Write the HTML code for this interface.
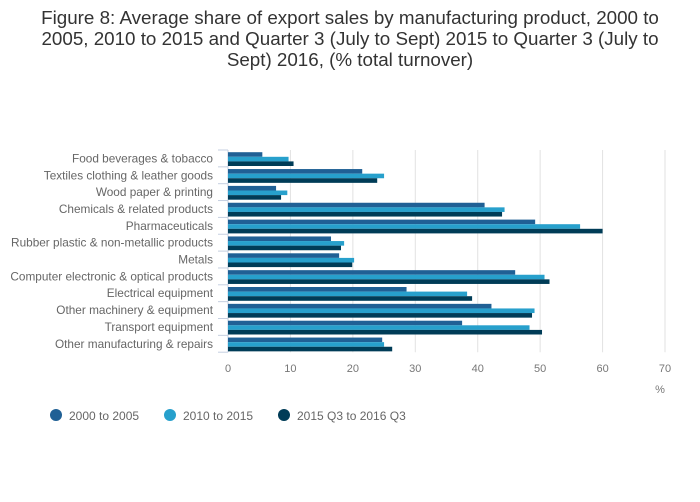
<!DOCTYPE html>
<html><head><meta charset="utf-8"><style>
body{margin:0;background:#fff;font-family:"Liberation Sans",sans-serif;}
#wrap{position:relative;width:700px;height:502px;overflow:hidden;}
#title{position:absolute;left:0;top:7px;width:700px;text-align:center;font-size:18.8px;line-height:21px;color:#333;}
</style></head><body>
<div id="wrap">
<div id="title">Figure 8: Average share of export sales by manufacturing product, 2000 to<br>2005, 2010 to 2015 and Quarter 3 (July to Sept) 2015 to Quarter 3 (July to<br>Sept) 2016, (% total turnover)</div>
<svg id="svg" width="700" height="502" style="position:absolute;left:0;top:0"></svg>
</div>
<script>
const categories=["Food beverages & tobacco","Textiles clothing & leather goods","Wood paper & printing","Chemicals & related products","Pharmaceuticals","Rubber plastic & non-metallic products","Metals","Computer electronic & optical products","Electrical equipment","Other machinery & equipment","Transport equipment","Other manufacturing & repairs"];
const s2000=[5.5,21.5,7.7,41.1,49.2,16.5,17.8,46.0,28.6,42.2,37.5,24.7];
const s2010=[9.7,25.0,9.5,44.3,56.4,18.6,20.2,50.7,38.3,49.1,48.3,25.0];
const s2015=[10.5,23.9,8.5,43.9,60.0,18.1,19.9,51.5,39.1,48.7,50.3,26.3];
const ticks=[0,10,20,30,40,50,60,70];
const seriesNames=["2000 to 2005","2010 to 2015","2015 Q3 to 2016 Q3"];
const colors=["#206095","#27a0cc","#003c57"];
const NS="http://www.w3.org/2000/svg";
const svg=document.getElementById('svg');
const x0=228,pxu=6.243,top0=150,band=16.85;
const X=v=>x0+v*pxu;
function mk(t,a){const e=document.createElementNS(NS,t);for(const k in a)e.setAttribute(k,a[k]);svg.appendChild(e);return e;}
const bottom=top0+band*categories.length;
ticks.forEach(t=>{
  if(t>0){const g=mk('line',{x1:X(t),x2:X(t),y1:top0,y2:bottom,stroke:'#e2e2e2','stroke-width':1});
  
  }
  const l=mk('text',{x:X(t),y:372,'text-anchor':'middle','font-size':11,fill:'#777'});l.textContent=t;
  
  
});
const al=mk('line',{x1:x0,x2:x0,y1:top0,y2:bottom,stroke:'#c5cfe0','stroke-width':1});


const series=[s2000,s2010,s2015];
categories.forEach((c,i)=>{
  const yb=top0+i*band;
  const tk=mk('line',{x1:218,x2:228,y1:yb,y2:yb,stroke:'#c5cfe0','stroke-width':1});
  
  
  const lab=mk('text',{x:213,y:yb+band/2+4,'text-anchor':'end','font-size':11.8,fill:'#666'});lab.textContent=c;
  
  
  series.forEach((s,j)=>{
    const r=mk('rect',{x:x0,y:yb+2.2+j*4.6,width:X(s[i])-x0,height:4.6,fill:colors[j]});
    
    
  });
});
const lb=mk('line',{x1:218,x2:228,y1:bottom,y2:bottom,stroke:'#c5cfe0','stroke-width':1});


const pc=mk('text',{x:660,y:393,'text-anchor':'middle','font-size':11,fill:'#777'});pc.textContent='%';


const lx=[56,170,284];
seriesNames.forEach((n,j)=>{
  const c=mk('circle',{cx:lx[j],cy:415,r:6,fill:colors[j]});
  
  
  const t=mk('text',{x:lx[j]+13,y:420,'font-size':12,fill:'#666'});t.textContent=n;
  
  
});
</script>
</body></html>
